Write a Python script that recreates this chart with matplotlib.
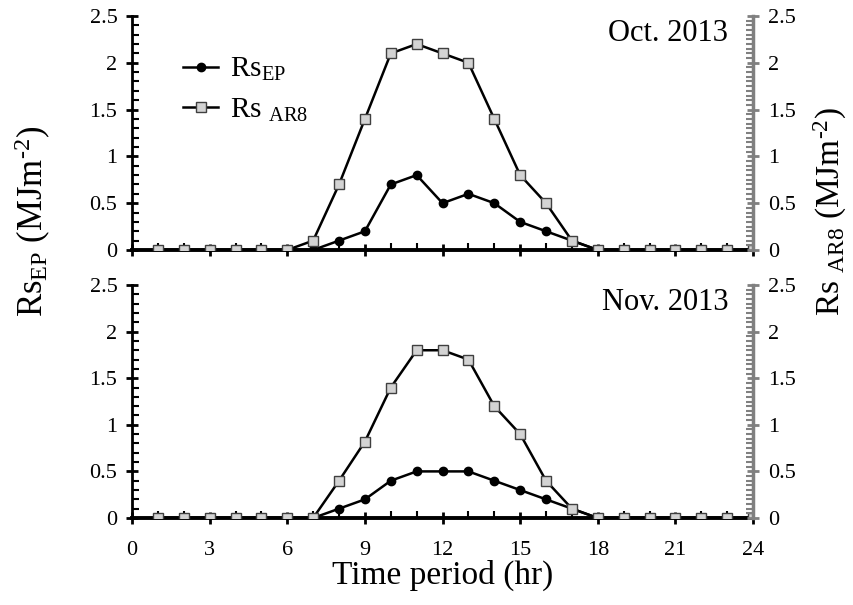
import matplotlib.pyplot as plt
from matplotlib.ticker import MultipleLocator
import numpy as np

plt.rcParams['font.family'] = 'Liberation Serif'
plt.rcParams['mathtext.fontset'] = 'custom'
plt.rcParams['mathtext.rm'] = 'Liberation Serif'
plt.rcParams['mathtext.it'] = 'Liberation Serif:italic'

hours = np.arange(1, 25)

oct_ep = [0, 0, 0, 0, 0, 0, 0, 0.1, 0.2, 0.7, 0.8, 0.5,
          0.6, 0.5, 0.3, 0.2, 0.1, 0, 0, 0, 0, 0, 0, 0]
oct_ar8 = [0, 0, 0, 0, 0, 0, 0.1, 0.7, 1.4, 2.1, 2.2, 2.1,
           2.0, 1.4, 0.8, 0.5, 0.1, 0, 0, 0, 0, 0, 0, 0]

nov_ep = [0, 0, 0, 0, 0, 0, 0, 0.1, 0.2, 0.4, 0.5, 0.5,
          0.5, 0.4, 0.3, 0.2, 0.1, 0, 0, 0, 0, 0, 0, 0]
nov_ar8 = [0, 0, 0, 0, 0, 0, 0, 0.4, 0.82, 1.4, 1.8, 1.8,
           1.7, 1.2, 0.9, 0.4, 0.1, 0, 0, 0, 0, 0, 0, 0]

panels = [('Oct. 2013', oct_ep, oct_ar8), ('Nov. 2013', nov_ep, nov_ar8)]

gray = '#808080'
fig = plt.figure(figsize=(8.54, 6.05), dpi=100)
positions = [[0.1546, 0.5868, 0.7272, 0.3868], [0.1546, 0.1438, 0.7272, 0.3851]]

for i, (title, ep, ar8) in enumerate(panels):
    ax = fig.add_axes(positions[i])
    ax.plot(hours, ep, '-o', color='black', lw=1.8, ms=6, zorder=3, label=r'Rs$_{\mathrm{EP}}$')
    ax.plot(hours, ar8, '-s', color='black', lw=1.8, ms=7, mfc='#d3d3d3', mec='#404040',
            mew=1.0, zorder=4, label=r'Rs $_{\mathrm{AR8}}$')
    ax.set_xlim(0, 24)
    ax.set_ylim(0, 2.5)
    ax.xaxis.set_major_locator(MultipleLocator(3))
    ax.xaxis.set_minor_locator(MultipleLocator(1))
    ax.yaxis.set_major_locator(MultipleLocator(0.5))
    ax.yaxis.set_minor_locator(MultipleLocator(0.1))
    ax.spines['top'].set_visible(False)
    ax.spines['right'].set_visible(False)
    ax.spines['left'].set_linewidth(2)
    ax.spines['bottom'].set_linewidth(2.8)
    ax.tick_params(axis='both', which='major', direction='inout', length=9, width=2, labelsize=16)
    ax.tick_params(axis='both', which='minor', direction='in', length=5, width=1.5)
    ax.tick_params(axis='y', pad=6)
    ax.yaxis.set_major_formatter(plt.FuncFormatter(lambda v, p: f'{v:g}'))
    ax.text(0.96, 0.925, title, transform=ax.transAxes, ha='right', va='center', fontsize=22)
    if i == 0:
        ax.tick_params(axis='x', labelbottom=False)
        ax.legend(loc='upper left', bbox_to_anchor=(0.04, 0.94), frameon=False, fontsize=21,
                  handlelength=1.2, handletextpad=0.4, labelspacing=0.45)
    else:
        ax.tick_params(axis='x', pad=12)
        ax.set_xlabel('Time period (hr)', fontsize=24, labelpad=0)

    ax2 = ax.twinx()
    ax2.set_ylim(0, 2.5)
    ax2.yaxis.set_major_locator(MultipleLocator(0.5))
    ax2.yaxis.set_minor_locator(MultipleLocator(0.05))
    ax2.yaxis.set_major_formatter(plt.FuncFormatter(lambda v, p: f'{v:g}'))
    for s in ['top', 'left', 'bottom']:
        ax2.spines[s].set_visible(False)
    ax2.spines['right'].set_color(gray)
    ax2.spines['right'].set_linewidth(2.5)
    ax2.tick_params(axis='y', which='major', direction='inout', length=9, width=2, colors=gray,
                    labelcolor='black', labelsize=16, pad=6)
    ax2.tick_params(axis='y', which='minor', direction='in', length=5, width=1.5, colors=gray)

fig.text(0.039, 0.635, r'Rs$_{\mathrm{EP}}$ (MJm$^{\text{-2}}$)', rotation=90,
         ha='center', va='center', fontsize=25)
fig.text(0.972, 0.65, r'Rs $_{\mathrm{AR8}}$ (MJm$^{\text{-2}}$)', rotation=90,
         ha='center', va='center', fontsize=24)

fig.savefig('out.png', dpi=100)
